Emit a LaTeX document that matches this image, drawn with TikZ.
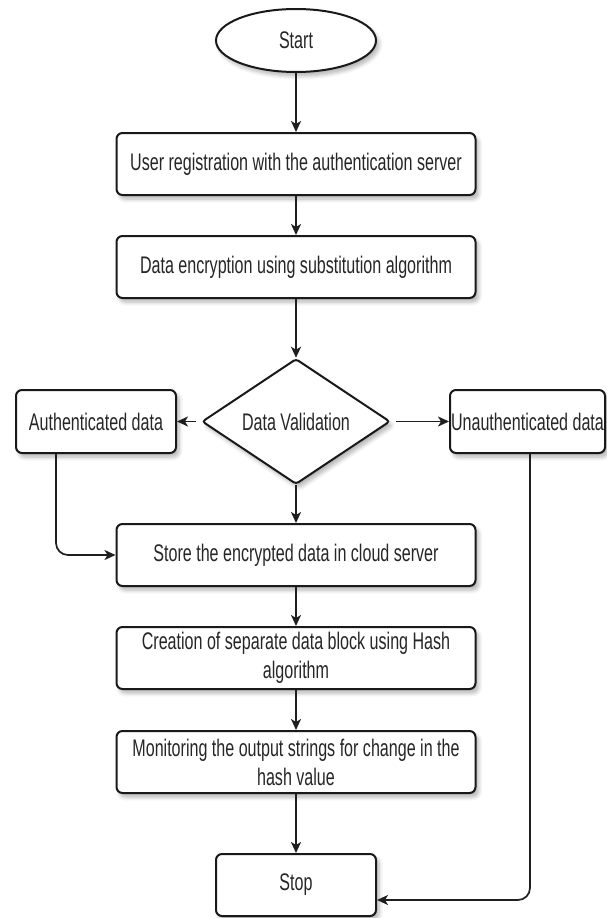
\documentclass[tikz,border=0pt]{standalone}
\usepackage{fontspec}
\setmainfont{Liberation Sans}[FakeStretch=0.67]
\usetikzlibrary{shapes.geometric,arrows.meta,shadows.blur}

\tikzset{
  softshadow/.style={blur shadow={shadow xshift=3pt, shadow yshift=-4pt,
      shadow blur radius=4pt, shadow blur steps=6, shadow opacity=30}},
  base/.style={draw=black!90, line width=2pt, fill=white, inner sep=0pt,
      align=center, text=black!85,
      font=\fontsize{24}{29}\selectfont, softshadow},
  procbox/.style={base, rectangle, rounded corners=6pt,
      minimum width=359pt, minimum height=62pt},
  sidebox/.style={base, rectangle, rounded corners=6pt,
      minimum height=63pt},
  termnode/.style={base, ellipse, minimum width=160pt, minimum height=63pt},
  decnode/.style={base, diamond, rounded corners=3pt,
      minimum width=188pt, minimum height=117pt},
  arr/.style={draw=black!88, line width=1.7pt,
      -{Stealth[length=11pt, width=10pt, inset=3pt]}},
}

\begin{document}
\begin{tikzpicture}[x=1pt, y=-1pt]
  \useasboundingbox (0,0) rectangle (606,918);

  % main column
  \node[termnode] (start) at (296,40.5) {Start};
  \node[procbox] (reg) at (296,164) {User registration with the authentication server};
  \node[procbox] (enc) at (296,267) {Data encryption using substitution algorithm};
  \node[decnode] (val) at (296,421.5) {Data Validation};
  \node[sidebox, minimum width=160pt] (auth) at (96,421.5) {Authenticated data};
  \node[sidebox, minimum width=155pt] (unauth) at (527.5,421.5) {Unauthenticated data};
  \node[procbox] (store) at (296,555) {Store the encrypted data in cloud server};
  \node[procbox] (hash) at (296,658) {Creation of separate data block using Hash\\algorithm};
  \node[procbox] (mon) at (296,762) {Monitoring the output strings for change in the\\hash value};
  \node[sidebox, minimum width=160pt, minimum height=62pt] (stop) at (296,885) {Stop};

  % connectors
  \draw[arr] (start) -- (reg);
  \draw[arr] (reg) -- (enc);
  \draw[arr] (enc) -- (val);
  \draw[arr] ([xshift=-5pt]val.west) -- (auth.east);
  \draw[arr] ([xshift=5pt]val.east) -- (unauth.west);
  \draw[arr] (val) -- (store);
  \draw[arr] (store) -- (hash);
  \draw[arr] (hash) -- (mon);
  \draw[arr] (mon) -- (stop);
  \draw[arr, rounded corners=12pt] ([xshift=-40pt]auth.south) |- (store.west);
  \draw[arr, rounded corners=12pt] ([xshift=2.5pt]unauth.south) |- ([yshift=-15pt]stop.east);
\end{tikzpicture}
\end{document}
